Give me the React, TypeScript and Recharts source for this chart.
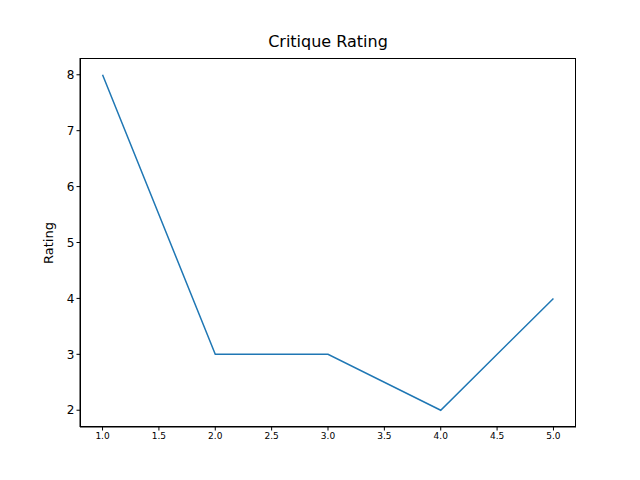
import React from 'react';
import { LineChart, Line, XAxis, YAxis } from 'recharts';

const steps = [1, 2, 3, 4, 5];
const ratings = [8, 3, 3, 2, 4];
const xTicks = [1, 1.5, 2, 2.5, 3, 3.5, 4, 4.5, 5];
const yTicks = [2, 3, 4, 5, 6, 7, 8];

const data = steps.map((s, i) => ({ step: s, rating: ratings[i] }));

const font = 'DejaVu Sans';

export default function App() {
  return (
    <div style={{ position: 'absolute', left: 0, top: 0, width: 640, height: 480, background: '#fff' }}>
      <div style={{ position: 'absolute', top: 32, left: 80, width: 496, textAlign: 'center', fontFamily: font, fontSize: 16 }}>
        Critique Rating
      </div>
      <div style={{ position: 'absolute', left: 48, top: 243, transform: 'translate(-50%,-50%) rotate(-90deg)', fontFamily: font, fontSize: 13 }}>
        Rating
      </div>
      <LineChart width={640} height={480} data={data} margin={{ top: 58, right: 64, bottom: 23, left: 40 }}>
        <XAxis
          dataKey="step"
          type="number"
          domain={[0.8, 5.2]}
          ticks={xTicks}
          tickFormatter={(v: number) => v.toFixed(1)}
          height={30}
          stroke="#000"
          tickSize={3.5}
          tick={{ fill: '#000', fontSize: 9, fontFamily: font }}
        />
        <YAxis
          type="number"
          domain={[1.7, 8.3]}
          ticks={yTicks}
          width={40}
          stroke="#000"
          tickSize={3.5}
          tick={{ fill: '#000', fontSize: 12, fontFamily: font }}
        />
        <Line dataKey="rating" stroke="#1f77b4" strokeWidth={1.5} dot={false} isAnimationActive={false} />
      </LineChart>
      <div style={{ position: 'absolute', left: 80, top: 58, width: 496, height: 369, boxSizing: 'border-box', border: '1px solid #000', pointerEvents: 'none' }} />
    </div>
  );
}
